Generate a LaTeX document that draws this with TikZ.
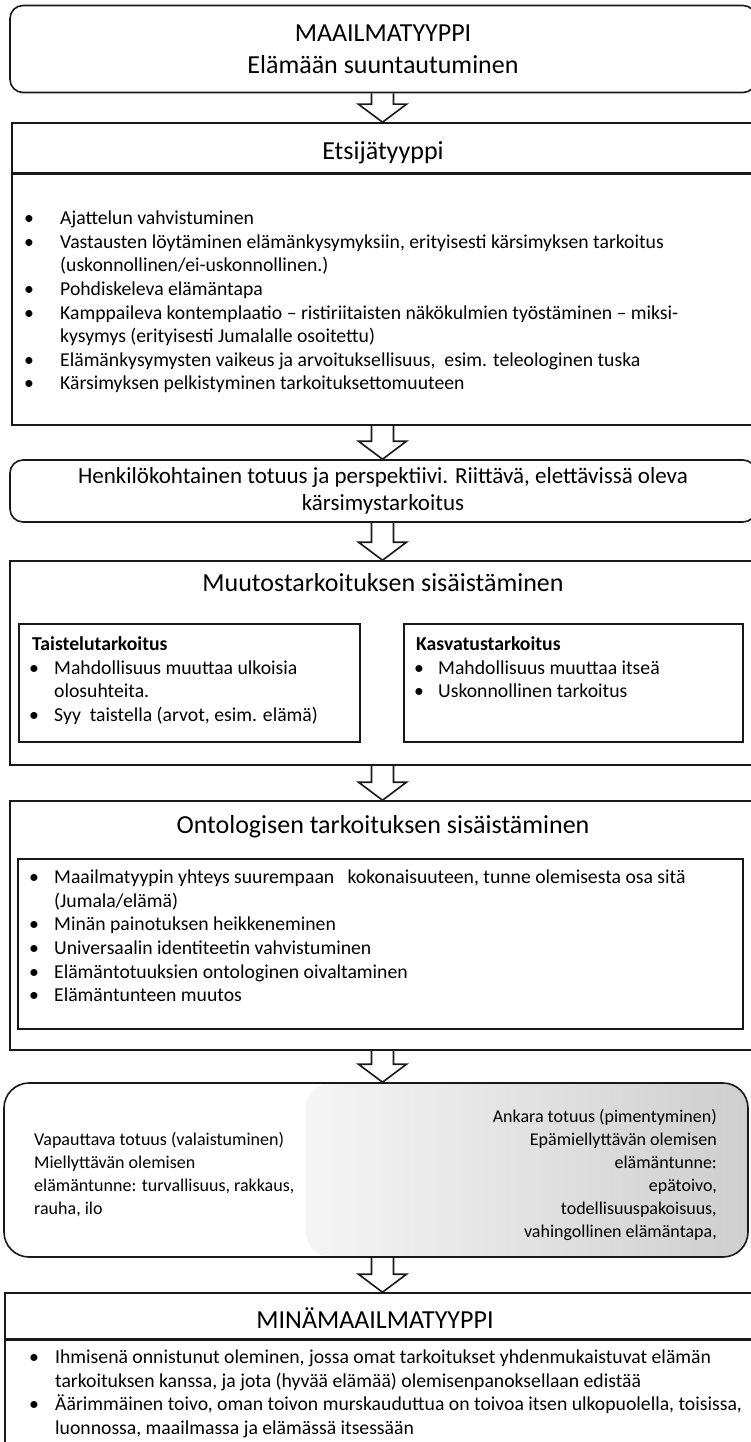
\documentclass[tikz,border=0pt]{standalone}
\usepackage{fontspec}
\setmainfont{Carlito}
\usetikzlibrary{calc,positioning}

\newcommand{\titlefont}{\fontsize{26}{32}\selectfont}
\newcommand{\henkfont}{\fontsize{23}{27}\selectfont}
\newcommand{\bodyfont}{\fontsize{19.7}{23.6}\selectfont}
\newcommand{\tunnefont}{\fontsize{18}{23}\selectfont}
\newcommand{\itm}[1]{\strut\makebox[#1][l]{\textbullet}}
\newcommand{\cnt}[1]{\strut\hspace*{#1}}

\begin{document}
\begin{tikzpicture}[
    x=1pt, y=-1pt,
    box/.style={draw=black!90, line width=1.6pt, rectangle, inner sep=0pt},
    roundbox/.style={box, rounded corners=13pt},
    txt/.style={inner sep=0pt, align=left, font=\bodyfont},
    flow/.style={draw=black!90, line width=1.6pt, miter limit=10}
]
    \path[use as bounding box] (0,0) rectangle (751,1442);
    \clip (0,0) rectangle (751,1442);
    \coordinate (axis) at (382.5,0);

    \node[roundbox, minimum width=746pt, minimum height=87pt, align=center, font=\titlefont]
        (maailma) at (383,49) {MAAILMATYYPPI\\Elämään suuntautuminen};

    \node[box, minimum width=742pt, minimum height=50pt] (etsija) at (383,148) {};
    \node[font=\titlefont, inner sep=0pt] (etsijatitle) at (383,153) {Etsijätyyppi};
    \node[box, minimum width=742pt, minimum height=252pt] (etsijabody) at (383,299) {};
    \draw[line width=2.6pt, black!90] (etsija.south west) -- (etsija.south east);
    \node[txt, anchor=north west] (etsijalist) at (24,208) {%
        \itm{36pt}Ajattelun vahvistuminen\\
        \itm{36pt}Vastausten löytäminen elämänkysymyksiin, erityisesti kärsimyksen tarkoitus\\
        \cnt{36pt}(uskonnollinen/ei-uskonnollinen.)\\
        \itm{36pt}Pohdiskeleva elämäntapa\\
        \itm{36pt}Kamppaileva kontemplaatio – ristiriitaisten näkökulmien työstäminen – miksi-\\
        \cnt{36pt}kysymys (erityisesti Jumalalle osoitettu)\\
        \itm{36pt}Elämänkysymysten vaikeus ja arvoituksellisuus,\ \ esim. teleologinen tuska\\
        \itm{36pt}Kärsimyksen pelkistyminen tarkoituksettomuuteen};

    \node[roundbox, minimum width=746pt, minimum height=62pt, align=center, font=\henkfont]
        (henk) at (383,491) {Henkilökohtainen totuus ja perspektiivi. Riittävä, elettävissä oleva\\kärsimystarkoitus};

    \node[box, minimum width=746pt, minimum height=204pt] (muutos) at (383,663) {};
    \node[font=\titlefont, inner sep=0pt] (muutostitle) at (383,583) {Muutostarkoituksen sisäistäminen};
    \node[box, minimum width=341pt, minimum height=118pt] (taistelu) at (189.5,683) {};
    \node[box, minimum width=339pt, minimum height=118pt] (kasvatus) at (573.5,683) {};
    \node[txt, anchor=north west] (taistelulist) at (29,634) {%
        \strut\hspace*{3pt}\textbf{Taistelutarkoitus}\\
        \itm{25pt}Mahdollisuus muuttaa ulkoisia\\
        \cnt{25pt}olosuhteita.\\
        \itm{25pt}Syy\ \ taistella (arvot, esim. elämä)};
    \node[txt, anchor=north west] (kasvatuslist) at (414,634) {%
        \strut\hspace*{2pt}\textbf{Kasvatustarkoitus}\\
        \itm{24pt}Mahdollisuus muuttaa itseä\\
        \itm{24pt}Uskonnollinen tarkoitus};

    \node[box, minimum width=746pt, minimum height=249pt] (onto) at (383,925.5) {};
    \node[font=\titlefont, inner sep=0pt] (ontotitle) at (383,827) {Ontologisen tarkoituksen sisäistäminen};
    \node[box, minimum width=725pt, minimum height=170pt] (ontoinner) at (380.5,944) {};
    \node[txt, anchor=north west] (ontolist) at (29,867) {%
        \itm{25pt}Maailmatyypin yhteys suurempaan\ \ \ kokonaisuuteen, tunne olemisesta osa sitä\\
        \cnt{25pt}(Jumala/elämä)\\
        \itm{25pt}Minän painotuksen heikkeneminen\\
        \itm{25pt}Universaalin identiteetin vahvistuminen\\
        \itm{25pt}Elämäntotuuksien ontologinen oivaltaminen\\
        \itm{25pt}Elämäntunteen muutos};

    \begin{scope}
        \clip[rounded corners=25pt] (4,1083) rectangle (748,1257);
        \shade[left color=black!4, right color=black!19, rounded corners=25pt] (306,1083) rectangle (748,1257);
    \end{scope}
    \node[box, rounded corners=25pt, minimum width=744pt, minimum height=174pt] (tunne) at (376,1170) {};
    \node[txt, anchor=north west, font=\tunnefont] (vapauttava) at (34,1129) {%
        \strut Vapauttava totuus (valaistuminen)\\
        \strut Miellyttävän olemisen\\
        \strut elämäntunne: turvallisuus, rakkaus,\\
        \strut rauha, ilo};
    \node[txt, anchor=north east, align=right, font=\tunnefont] (ankara) at (717,1106) {%
        \strut Ankara totuus (pimentyminen)\\
        \strut Epämiellyttävän olemisen\\
        \strut elämäntunne:\\
        \strut epätoivo,\\
        \strut todellisuuspakoisuus,\\
        \strut vahingollinen elämäntapa,};

    \node[box, minimum width=756pt, minimum height=46pt] (mina) at (383,1316) {};
    \node[font=\titlefont, inner sep=0pt] (minatitle) at (375,1318) {MINÄMAAILMATYYPPI};
    \node[box, minimum width=756pt, minimum height=140pt] (minabody) at (383,1409) {};
    \draw[line width=2.6pt, black!90] (mina.south west) -- (mina.south east);
    \node[txt, anchor=north west] (minalist) at (29,1347) {%
        \itm{26pt}Ihmisenä onnistunut oleminen, jossa omat tarkoitukset yhdenmukaistuvat elämän\\
        \cnt{26pt}tarkoituksen kanssa, ja jota (hyvää elämää) olemisenpanoksellaan edistää\\
        \itm{26pt}Äärimmäinen toivo, oman toivon murskauduttua on toivoa itsen ulkopuolella, toisissa,\\
        \cnt{26pt}luonnossa, maailmassa ja elämässä itsessään};

    \foreach \a/\b in {maailma/etsija, etsijabody/henk, henk/muutos, muutos/onto, onto/tunne, tunne/mina}
        \draw[flow] ($(axis |- \a.south)+(-11,0)$) -- ($(axis |- \b.north)+(-11,-18)$)
            -- ($(axis |- \b.north)+(-24,-18)$) -- (axis |- \b.north)
            -- ($(axis |- \b.north)+(24,-18)$) -- ($(axis |- \b.north)+(11,-18)$)
            -- ($(axis |- \a.south)+(11,0)$);
\end{tikzpicture}
\end{document}
